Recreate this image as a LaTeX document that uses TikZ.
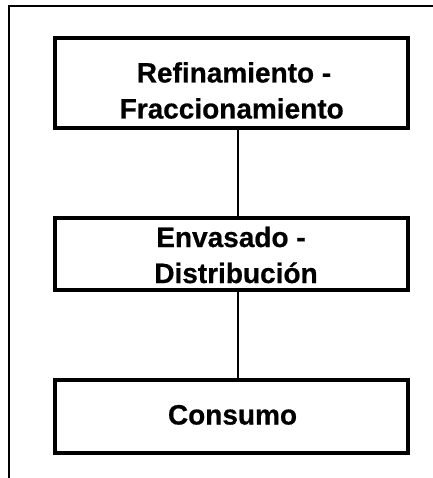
\documentclass[tikz,border=0pt]{standalone}
\usepackage{fontspec}
\setmainfont{Liberation Sans}[BoldFeatures={FakeBold=0.6}]
\begin{document}
\begin{tikzpicture}[x=1pt,y=-1pt,
  box/.style={draw=black, line width=4pt, minimum width=353pt, inner sep=0pt},
  lbl/.style={font=\fontsize{28}{34}\selectfont\bfseries, anchor=base, inner sep=0pt},
  conn/.style={line width=1.5pt}]
\useasboundingbox (0,0) rectangle (432,478);
% outer frame
\draw[line width=1.3pt] (433,6) -- (9,6) -- (9,479);
% boxes
\node[box, minimum height=90pt] (b1) at (231.5,83.5) {};
\node[box, minimum height=72pt] (b2) at (231.5,254) {};
\node[box, minimum height=73pt] (b3) at (231.5,416.5) {};
% labels
\node[lbl] (t1a) at (234,82.5) {Refinamiento -};
\node[lbl] (t1b) at (231.7,118.5) {Fraccionamiento};
\node[lbl] (t2a) at (231,247) {Envasado -};
\node[lbl] (t2b) at (236,283) {Distribución};
\node[lbl] (t3) at (232.5,424.5) {Consumo};
% connectors
\draw[conn] ([xshift=6.5pt]b1.south) -- ([xshift=6.5pt]b2.north);
\draw[conn] ([xshift=6.5pt]b2.south) -- ([xshift=6.5pt]b3.north);
\end{tikzpicture}
\end{document}
